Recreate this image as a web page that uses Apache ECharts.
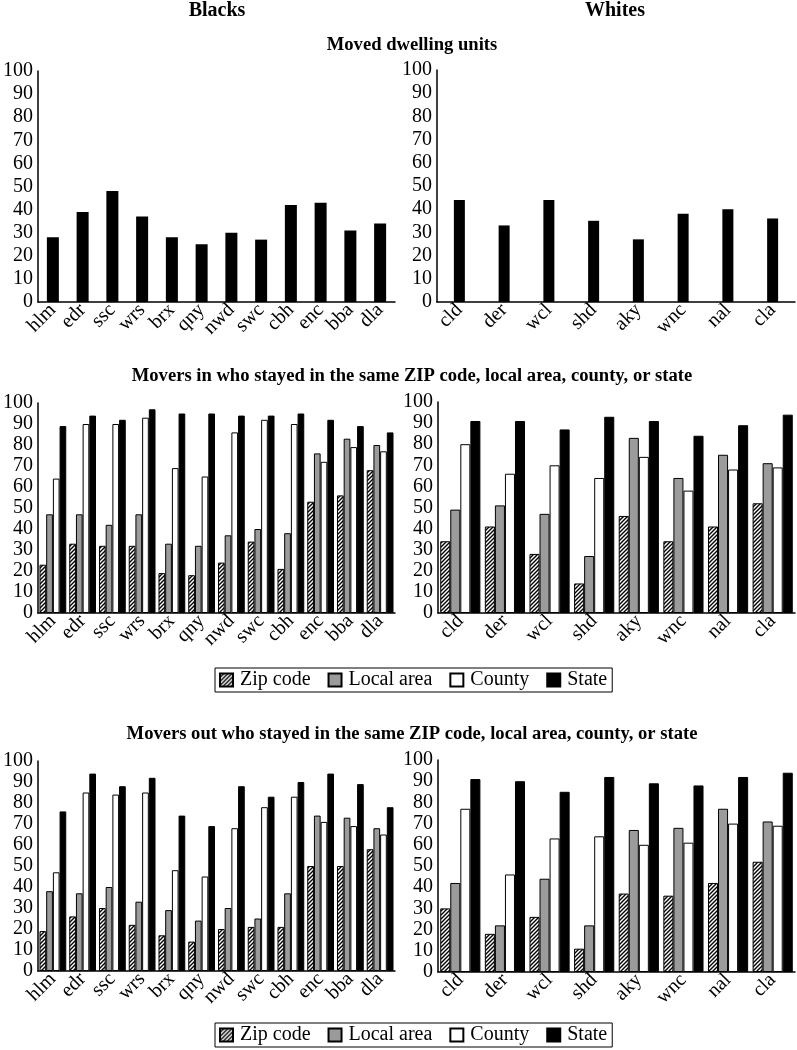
<!DOCTYPE html>
<html>
<head>
<meta charset="utf-8">
<script src="https://cdn.jsdelivr.net/npm/echarts@6/dist/echarts.min.js"></script>
<style>
html,body{margin:0;padding:0;background:#fff;}
#chart{width:797px;height:1050px;}
</style>
</head>
<body>
<div id="chart"></div>
<script>
// ---- data ----
const blackCats = ['hlm','edr','ssc','wrs','brx','qny','nwd','swc','cbh','enc','bba','dla'];
const whiteCats = ['cld','der','wcl','shd','aky','wnc','nal','cla'];
const legendNames = ['Zip code','Local area','County','State'];

const movedBlacks = [28,39,48,37,28,25,30,27,42,43,31,34];
const movedWhites = [44,33,44,35,27,38,40,36];

const inBlacksZip    = [23,33,32,32,19,18,24,34,21,53,56,68];
const inBlacksLocal  = [47,47,42,47,33,32,37,40,38,76,83,80];
const inBlacksCounty = [64,90,90,93,69,65,86,92,90,72,79,77];
const inBlacksState  = [89,94,92,97,95,95,94,94,95,92,89,86];

const inWhitesZip    = [34,41,28,14,46,34,41,52];
const inWhitesLocal  = [49,51,47,27,83,64,75,71];
const inWhitesCounty = [80,66,70,64,74,58,68,69];
const inWhitesState  = [91,91,87,93,91,84,89,94];

const outBlacksZip    = [19,26,30,22,17,14,20,21,21,50,50,58];
const outBlacksLocal  = [38,37,40,33,29,24,30,25,37,74,73,68];
const outBlacksCounty = [47,85,84,85,48,45,68,78,83,71,69,65];
const outBlacksState  = [76,94,88,92,74,69,88,83,90,94,89,78];

const outWhitesZip    = [30,18,26,11,37,36,42,52];
const outWhitesLocal  = [42,22,44,22,67,68,77,71];
const outWhitesCounty = [77,46,63,64,60,61,70,69];
const outWhitesState  = [91,90,85,92,89,88,92,94];

// ---- styling ----
const FONT = 'Liberation Serif';

function hatch() {
  const c = document.createElement('canvas');
  c.width = 4; c.height = 4;
  const g = c.getContext('2d');
  g.fillStyle = '#fff'; g.fillRect(0,0,4,4);
  g.strokeStyle = '#000'; g.lineWidth = 1.4;
  g.beginPath();
  g.moveTo(-1,5); g.lineTo(5,-1);
  g.moveTo(-1,1); g.lineTo(1,-1);
  g.moveTo(3,5); g.lineTo(5,3);
  g.stroke();
  return {image: c, repeat: 'repeat'};
}
const colors = [hatch(), '#9b9b9b', '#ffffff', '#000000'];

const grids = [
  {left: 37, top: 71, width: 358, height: 231},
  {left: 437, top: 70, width: 358, height: 232},
  {left: 37, top: 403, width: 358, height: 210},
  {left: 438, top: 402, width: 357, height: 211},
  {left: 37, top: 761, width: 358, height: 210},
  {left: 438, top: 760, width: 357, height: 212}
];
const catsFor = [blackCats, whiteCats, blackCats, whiteCats, blackCats, whiteCats];

const xAxes = grids.map((g, i) => ({
  type: 'category', gridIndex: i, data: catsFor[i],
  axisLine: {show: true, lineStyle: {color: '#000', width: 1.5}},
  axisTick: {show: false},
  axisLabel: {interval: 0, rotate: 45, color: '#000', fontFamily: FONT, fontSize: 20, margin: 5}
}));
const yAxes = grids.map((g, i) => ({
  type: 'value', gridIndex: i, min: 0, max: 100, interval: 10,
  splitLine: {show: false},
  axisLine: {show: true, lineStyle: {color: '#000', width: 1.5}},
  axisTick: {show: false},
  axisLabel: {color: '#000', fontFamily: FONT, fontSize: 20, margin: 5}
}));

const series = [];
series.push({name: 'Moved', type: 'bar', xAxisIndex: 0, yAxisIndex: 0, data: movedBlacks, barWidth: 12,
  itemStyle: {color: '#000'}});
series.push({name: 'Moved', type: 'bar', xAxisIndex: 1, yAxisIndex: 1, data: movedWhites, barWidth: 11,
  itemStyle: {color: '#000'}});

const groups = [
  [2, [inBlacksZip, inBlacksLocal, inBlacksCounty, inBlacksState]],
  [3, [inWhitesZip, inWhitesLocal, inWhitesCounty, inWhitesState]],
  [4, [outBlacksZip, outBlacksLocal, outBlacksCounty, outBlacksState]],
  [5, [outWhitesZip, outWhitesLocal, outWhitesCounty, outWhitesState]]
];
groups.forEach(([gi, arrs]) => {
  arrs.forEach((arr, k) => {
    series.push({
      name: legendNames[k], type: 'bar', xAxisIndex: gi, yAxisIndex: gi, data: arr,
      barGap: '0%', barCategoryGap: '10%',
      itemStyle: {color: colors[k], borderColor: '#000', borderWidth: 1}
    });
  });
});

function txt(x, y, text, size) {
  return {type: 'text', x: x, y: y,
    style: {text: text, fill: '#000', font: 'bold ' + size + 'px "' + FONT + '"', align: 'center', verticalAlign: 'middle'}};
}

const legendCommon = {
  data: legendNames, orient: 'horizontal', left: 215,
  borderColor: '#000', borderWidth: 1, padding: [2, 5, 2, 4],
  itemWidth: 13, itemHeight: 13, itemGap: 17, icon: 'rect',
  textStyle: {color: '#000', fontFamily: FONT, fontSize: 20, padding: [0, 0, 0, 2]}
};

const option = {
  animation: false,
  backgroundColor: '#fff',
  grid: grids.map(g => Object.assign({containLabel: false}, g)),
  xAxis: xAxes,
  yAxis: yAxes,
  series: series,
  legend: [
    Object.assign({}, legendCommon, {top: 668}),
    Object.assign({}, legendCommon, {top: 1023})
  ],
  graphic: [
    txt(217, 11, 'Blacks', 20),
    txt(615, 11, 'Whites', 20),
    txt(412, 45, 'Moved dwelling units', 18.6),
    txt(412, 376, 'Movers in who stayed in the same ZIP code, local area, county, or state', 18.6),
    txt(412, 734, 'Movers out who stayed in the same ZIP code, local area, county, or state', 18.6)
  ]
};

const chart = echarts.init(document.getElementById('chart'), null, {renderer: 'canvas'});
chart.setOption(option);
</script>
</body>
</html>
